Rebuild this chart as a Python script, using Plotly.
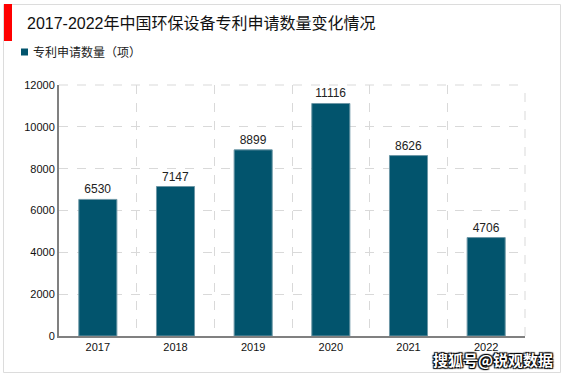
import plotly.graph_objects as go

years = ["2017", "2018", "2019", "2020", "2021", "2022"]
patents = [6530, 7147, 8899, 11116, 8626, 4706]
y_ticks = [0, 2000, 4000, 6000, 8000, 10000, 12000]

title_text = "2017-2022年中国环保设备专利申请数量变化情况"
legend_text = "专利申请数量（项）"
watermark = "搜狐号@锐观数据"

bar_color = "#02546d"

fig = go.Figure()
fig.add_trace(go.Bar(
    x=years, y=patents, width=0.49,
    marker=dict(color=bar_color, line=dict(color="#6d97a6", width=1)),
    text=[str(v) for v in patents], textposition="outside",
    textfont=dict(size=12, color="#222222", family="Liberation Sans, Arial"),
    cliponaxis=False, showlegend=False,
))

fig.update_layout(
    width=567, height=378,
    margin=dict(l=59, r=42, t=85, b=42),
    paper_bgcolor="white", plot_bgcolor="white",
    font=dict(family="Liberation Sans, Arial, Noto Sans CJK SC", size=11, color="#222222"),
    bargap=0.51,
    xaxis=dict(
        type="category", tickson="boundaries", showgrid=True,
        gridcolor="#d9d9d9", griddash="dash", gridwidth=1,
        showline=True, linecolor="#808080", linewidth=2,
        ticks="", tickfont=dict(size=11, color="#111111"),
        automargin=False,
    ),
    yaxis=dict(
        range=[0, 12000], tickvals=y_ticks, tickformat="d", showgrid=True,
        gridcolor="#d9d9d9", griddash="dash", gridwidth=1,
        showline=True, linecolor="#808080", linewidth=2,
        zeroline=False, ticks="", ticklen=0,
        tickfont=dict(size=11, color="#111111"),
        automargin=False,
    ),
    shapes=[
        dict(type="line", xref="paper", yref="paper", x0=1, x1=1, y0=0, y1=1,
             line=dict(color="#d9d9d9", width=1, dash="dash")),
        dict(type="line", xref="paper", yref="paper", x0=0, x1=1, y0=1, y1=1,
             line=dict(color="#d9d9d9", width=1, dash="dash")),
    ],
)

pw = 567 - 59 - 42
ph = 378 - 85 - 42
def px(x):
    return (x - 59) / pw
def py(y):
    return (378 - 42 - y) / ph

fig.add_shape(type="rect", xref="paper", yref="paper",
              x0=px(3.5), x1=px(560.5), y0=py(372.5), y1=py(4.5),
              line=dict(color="#dcdcdc", width=1), layer="below")
fig.add_shape(type="rect", xref="paper", yref="paper",
              x0=px(4), x1=px(12), y0=py(41), y1=py(4),
              fillcolor="#ff0000", line=dict(width=0))
fig.add_shape(type="rect", xref="paper", yref="paper",
              x0=px(21), x1=px(28), y0=py(55.5), y1=py(48.5),
              fillcolor=bar_color, line=dict(width=0))

fig.add_annotation(text=title_text, xref="paper", yref="paper",
                   x=px(25), y=py(23), xanchor="left", yanchor="middle",
                   showarrow=False,
                   font=dict(size=16, color="#111111", family="Liberation Sans, Noto Sans CJK SC"))
fig.add_annotation(text=legend_text, xref="paper", yref="paper",
                   x=px(31), y=py(52), xanchor="left", yanchor="middle",
                   showarrow=False,
                   font=dict(size=12, color="#222222", family="Noto Sans CJK SC"))
fig.add_annotation(text=watermark, xref="paper", yref="paper",
                   x=px(555), y=py(359), xanchor="right", yanchor="middle",
                   showarrow=False,
                   font=dict(size=15, color="white", family="Noto Sans CJK SC",
                             weight="bold", shadow="1px 1px 1px #000, -1px -1px 1px #000, 1px -1px 1px #000, -1px 1px 1px #000"))

fig.write_html("out.html", config={"displayModeBar": False},
               post_script="document.body.style.margin='0';document.body.style.padding='0';")
